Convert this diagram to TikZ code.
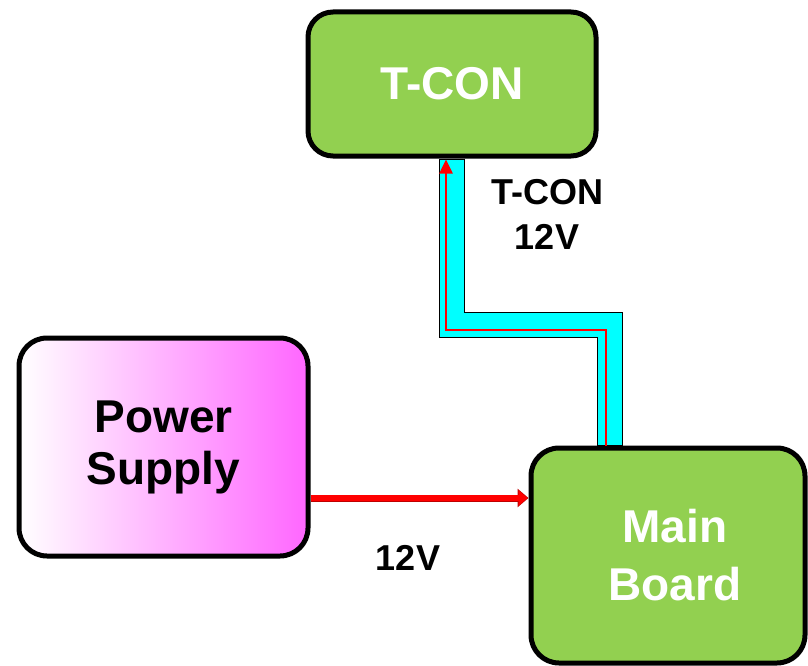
\documentclass[tikz,border=0pt]{standalone}
\usepackage{fontspec}
\setmainfont{Liberation Sans}
\usetikzlibrary{arrows.meta,backgrounds}
\definecolor{boxgreen}{HTML}{92D050}
\definecolor{boxpink}{HTML}{FF66FF}
\definecolor{wire}{HTML}{00FFFF}
\begin{document}
\begin{tikzpicture}[x=1pt,y=1pt,
  blockbox/.style={draw=black, line width=5pt, rounded corners=28pt, align=center,
    font=\bfseries\fontsize{46}{54}\selectfont, inner sep=0pt},
  greenbox/.style={blockbox, fill=boxgreen, text=white},
  pinkbox/.style={blockbox, left color=white, right color=boxpink, text=black},
  lbl/.style={font=\bfseries\fontsize{36}{45}\selectfont, align=center, text=black},
  cable/.style={line width=26pt, black, line join=miter, line cap=butt},
  cableinner/.style={line width=24pt, wire, line join=miter, line cap=butt},
  redwire/.style={line width=2.5pt, red, line join=miter},
]
\useasboundingbox (0,0) rectangle (808,-666);

\node[greenbox, minimum width=288pt, minimum height=144pt, rounded corners=25pt] (tcon) at (452,-84) {T-CON};
\node[pinkbox, minimum width=289pt, minimum height=218pt, font=\bfseries\fontsize{46}{52}\selectfont] (ps) at (163.5,-447) {Power\\Supply};
\node[greenbox, minimum width=274pt, minimum height=215pt, font=\bfseries\fontsize{46}{58}\selectfont] (main) at (668,-555.5) {\hspace*{14pt}Main\\\hspace*{14pt}Board};

\coordinate (bend) at (610,-325);
\coordinate (r1) at (606,-330);
\coordinate (r2) at (446,-330);
\coordinate (a1) at (310.5,-498);

\begin{scope}[on background layer]
  \draw[cable] (tcon.south) |- (bend) -- (main.north -| bend);
  \draw[cableinner] ([yshift=-1pt]tcon.south) |- (bend) -- ([yshift=1pt]main.north -| bend);
\end{scope}
\draw[redwire, -{Triangle[length=14pt,width=13pt]}] (main.north -| r1) -- (r1) -- (r2) -- ([yshift=-1pt]r2 |- tcon.south);
\draw[line width=7pt, red!75!black, -{Triangle[length=11pt,width=18pt]}] (a1) -- (main.west |- a1);
\draw[line width=5.5pt, red, shorten >=1pt, -{Triangle[length=9pt,width=15pt]}] (a1) -- (main.west |- a1);

\node[lbl] (tconlbl) at (547,-214) {T-CON\\12V};
\node[lbl] (pslbl) at (408,-558) {12V};
\end{tikzpicture}
\end{document}
